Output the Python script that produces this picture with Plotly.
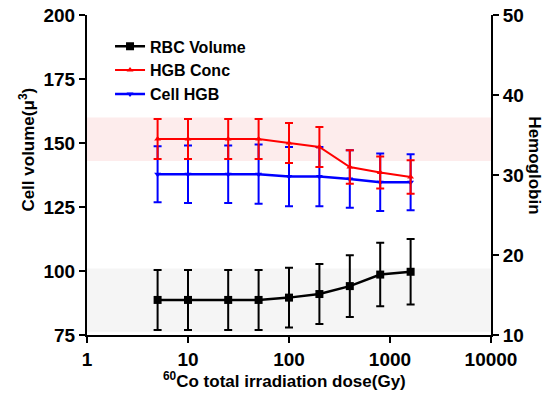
import plotly.graph_objects as go

dose = [5, 10, 25, 50, 100, 200, 400, 800, 1600]
rbc_volume = [88.7, 88.7, 88.7, 88.7, 89.6, 91.0, 94.1, 98.6, 99.7]
rbc_err = [11.7, 11.7, 11.7, 11.7, 11.7, 11.7, 12.1, 12.4, 12.8]
hgb_conc = [34.5, 34.5, 34.5, 34.5, 34.0, 33.5, 31.0, 30.3, 29.75]
hgb_conc_err = [2.5, 2.5, 2.5, 2.5, 2.5, 2.5, 2.1, 2.0, 2.1]
cell_hgb = [30.1, 30.1, 30.1, 30.1, 29.8, 29.8, 29.5, 29.1, 29.1]
cell_hgb_err = [3.5, 3.6, 3.6, 3.7, 3.7, 3.7, 3.6, 3.6, 3.5]

pink_band = [143, 160]
grey_band = [75, 101]

FONT = "Liberation Sans, Arial, sans-serif"

fig = go.Figure()

fig.add_trace(go.Scatter(
    x=dose, y=rbc_volume, name="<b>RBC Volume</b>", mode="lines+markers",
    legendrank=1,
    line=dict(color="black", width=2.5),
    marker=dict(symbol="square", size=8, color="black"),
    error_y=dict(type="data", array=rbc_err, color="black", thickness=2, width=4),
    yaxis="y"))
fig.add_trace(go.Scatter(
    x=dose, y=cell_hgb, name="<b>Cell HGB</b>", mode="lines+markers",
    legendrank=3,
    line=dict(color="#0000ff", width=2.5),
    marker=dict(symbol="triangle-down", size=6, color="#0000ff"),
    error_y=dict(type="data", array=cell_hgb_err, color="#0000ff", thickness=2, width=4),
    yaxis="y2"))
fig.add_trace(go.Scatter(
    x=dose, y=hgb_conc, name="<b>HGB Conc</b>", mode="lines+markers",
    legendrank=2,
    line=dict(color="#ff0000", width=2),
    marker=dict(symbol="triangle-up", size=6, color="#ff0000"),
    error_y=dict(type="data", array=hgb_conc_err, color="#ff0000", thickness=2, width=4),
    yaxis="y2"))

fig.add_shape(type="rect", xref="paper", yref="y", x0=0, x1=1,
              y0=pink_band[0], y1=pink_band[1], fillcolor="#fdecec",
              line=dict(width=0), layer="below")
fig.add_shape(type="rect", xref="paper", yref="y", x0=0, x1=1,
              y0=grey_band[0] + 1.3, y1=grey_band[1], fillcolor="#f5f5f5",
              line=dict(width=0), layer="below")

tickfont = dict(family=FONT, size=19, color="black")
axis_common = dict(showgrid=False, zeroline=False, showline=True, linecolor="black",
                   linewidth=2, ticks="outside", ticklen=6, tickwidth=2,
                   tickcolor="black", tickfont=tickfont, automargin=False,
                   ticklabeloverflow="allow")

fig.update_layout(
    width=549, height=398,
    margin=dict(l=87, r=58, t=15, b=63),
    paper_bgcolor="white", plot_bgcolor="white",
    font=dict(family=FONT, color="black"),
    showlegend=True,
    legend=dict(x=0.057, y=0.955, xanchor="left", yanchor="top",
                bgcolor="rgba(0,0,0,0)", font=dict(family=FONT, size=16, color="black"),
                tracegroupgap=0, itemwidth=30, traceorder="normal"),
    xaxis=dict(type="log", range=[0, 4], tickvals=[1, 10, 100, 1000, 10000],
               ticktext=["<b>1</b>", "<b>10</b>", "<b>100</b>", "<b>1000</b>", "<b>10000</b>"],
               ticklabelstandoff=0, **axis_common),
    yaxis=dict(range=[75, 200], tickvals=[75, 100, 125, 150, 175, 200],
               ticktext=["<b>75</b>", "<b>100</b>", "<b>125</b>", "<b>150</b>", "<b>175</b>", "<b>200</b>"],
               **axis_common),
    yaxis2=dict(range=[10, 50], tickvals=[10, 20, 30, 40, 50],
                ticktext=["<b>10</b>", "<b>20</b>", "<b>30</b>", "<b>40</b>", "<b>50</b>"],
                overlaying="y", side="right", anchor="x", **axis_common),
    annotations=[
        dict(text="<b>Hemoglobin</b>", xref="paper", yref="paper", x=1.109, y=0.53,
             textangle=90, showarrow=False, xanchor="center", yanchor="middle",
             font=dict(family=FONT, size=17, color="black")),
        dict(text="<b>Cell volume(μ<sup>3</sup>)</b>", xref="paper", yref="paper",
             x=-0.148, y=0.58, textangle=-90, showarrow=False,
             xanchor="center", yanchor="middle",
             font=dict(family=FONT, size=17, color="black")),
        dict(text="<b><sup>60</sup>Co total irradiation dose(Gy)</b>", xref="paper",
             yref="paper", x=0.49, y=-0.141, showarrow=False,
             xanchor="center", yanchor="middle",
             font=dict(family=FONT, size=17, color="black")),
    ],
)

fig.write_html("out.html", config={"displayModeBar": False},
               post_script="document.body.style.margin='0';document.body.style.overflow='hidden';")
